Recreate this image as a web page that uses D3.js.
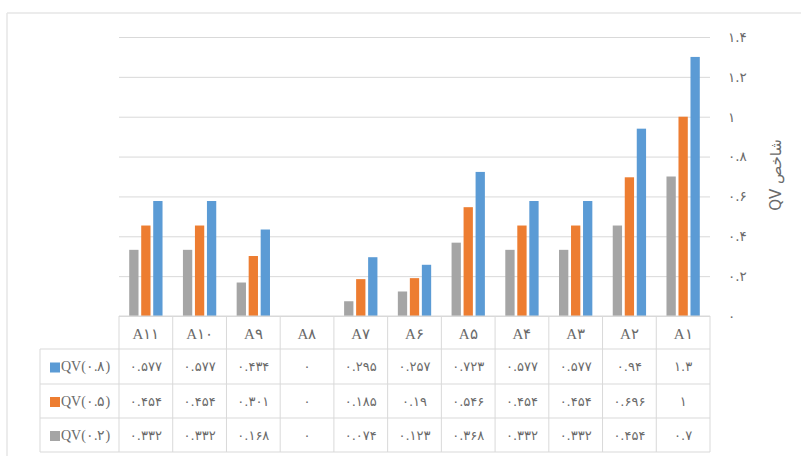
<!DOCTYPE html>
<html>
<head>
<meta charset="utf-8">
<script src="https://cdn.jsdelivr.net/npm/d3@7"></script>
<style>
  html, body { margin: 0; padding: 0; background: #fff; }
  svg { display: block; }
</style>
</head>
<body>
<svg id="chart" width="801" height="456"></svg>
<script>
// ---- data ----
const categories = ["A1", "A2", "A3", "A4", "A5", "A6", "A7", "A8", "A9", "A10", "A11"];
const seriesNames = ["QV(0.2)", "QV(0.5)", "QV(0.8)"];
const qv02 = [0.7, 0.454, 0.332, 0.332, 0.368, 0.123, 0.074, 0, 0.168, 0.332, 0.332];
const qv05 = [1, 0.696, 0.454, 0.454, 0.546, 0.19, 0.185, 0, 0.301, 0.454, 0.454];
const qv08 = [1.3, 0.94, 0.577, 0.577, 0.723, 0.257, 0.295, 0, 0.434, 0.577, 0.577];
const yTicks = [0, 0.2, 0.4, 0.6, 0.8, 1, 1.2, 1.4];
const axisTitle = "شاخص QV";

const seriesValues = [qv02, qv05, qv08];
const colors = ["#A5A5A5", "#ED7D31", "#5B9BD5"];

const fa = s => String(s).replace(/[0-9]/g, d => "۰۱۲۳۴۵۶۷۸۹"[+d]);

const svg = d3.select("#chart");
const plotL = 119, plotR = 710, plotT = 37, plotB = 316;
const gridColor = "#d9d9d9", textColor = "#6a6a6a";

// chart border
svg.append("line").attr("x1", 7).attr("x2", 801).attr("y1", 13).attr("y2", 13)
  .attr("stroke", "#e6e6e6").attr("stroke-width", 1.5);
svg.append("line").attr("x1", 7).attr("x2", 7).attr("y1", 13).attr("y2", 456)
  .attr("stroke", "#e6e6e6").attr("stroke-width", 1.5);

// scales (right-to-left category order)
const x0 = d3.scaleBand().domain(categories).range([plotR, plotL]);
const x1 = d3.scaleBand().domain(seriesNames).range([0, x0.bandwidth()])
  .paddingInner(0.225).paddingOuter(0.85);
const y = d3.scaleLinear().domain([0, 1.4]).range([plotB, plotT]);

// gridlines
svg.append("g")
  .attr("transform", `translate(${plotL},0)`)
  .call(d3.axisLeft(y).tickValues(yTicks).tickSize(-(plotR - plotL)).tickFormat(""))
  .call(g => g.select(".domain").remove())
  .call(g => g.selectAll(".tick line").attr("stroke", gridColor).attr("stroke-width", 1));

// y axis labels on right
svg.append("g")
  .attr("transform", `translate(728,0)`)
  .call(d3.axisRight(y).tickValues(yTicks).tickSize(0).tickPadding(0)
    .tickFormat(d => fa(+d.toFixed(1))))
  .call(g => g.select(".domain").remove())
  .call(g => g.selectAll("text")
    .attr("fill", textColor)
    .attr("font-size", 13.5)
    .attr("font-family", "'DejaVu Sans', 'Liberation Sans', sans-serif")
    .attr("text-anchor", "start"));

// axis title
svg.append("text")
  .attr("transform", `translate(776,175) rotate(-90)`)
  .attr("text-anchor", "middle")
  .attr("dominant-baseline", "central")
  .attr("direction", "rtl")
  .attr("fill", textColor)
  .attr("font-size", 15)
  .attr("font-family", "'DejaVu Sans', 'Liberation Sans', sans-serif")
  .text(axisTitle);

// bars
seriesNames.forEach((s, si) => {
  svg.append("g").selectAll("rect")
    .data(categories.map((c, i) => ({ c, v: seriesValues[si][i] })))
    .join("rect")
    .attr("x", d => x0(d.c) + x1(s))
    .attr("width", x1.bandwidth())
    .attr("y", d => y(d.v))
    .attr("height", d => y(0) - y(d.v))
    .attr("fill", colors[si]);
});

// data table
const tableL = 40;
const rowY = [316, 349, 384, 418, 452];
const tbl = svg.append("g");
const serif = "'Liberation Serif', 'DejaVu Serif', serif";
const numFont = "'DejaVu Sans', 'Liberation Sans', sans-serif";

// horizontal lines
rowY.forEach((ry, i) => {
  tbl.append("line")
    .attr("x1", i === 0 ? plotL : tableL).attr("x2", plotR)
    .attr("y1", ry).attr("y2", ry)
    .attr("stroke", gridColor).attr("stroke-width", 1);
});
// vertical lines
const bounds = categories.map(c => x0(c)).concat([plotR]);
bounds.forEach(bx => {
  tbl.append("line").attr("x1", bx).attr("x2", bx)
    .attr("y1", rowY[0]).attr("y2", rowY[4])
    .attr("stroke", gridColor).attr("stroke-width", 1);
});
tbl.append("line").attr("x1", tableL).attr("x2", tableL)
  .attr("y1", rowY[1]).attr("y2", rowY[4])
  .attr("stroke", gridColor).attr("stroke-width", 1);

// header labels
tbl.selectAll("text.cat").data(categories).join("text")
  .attr("class", "cat")
  .attr("x", c => x0(c) + x0.bandwidth() / 2)
  .attr("y", (rowY[0] + rowY[1]) / 2 + 1)
  .attr("text-anchor", "middle")
  .attr("dominant-baseline", "central")
  .attr("fill", textColor)
  .attr("font-size", 15)
  .attr("font-family", serif)
  .text(c => fa(c));

// data rows: top row = QV(0.8)
const rowOrder = [2, 1, 0];
rowOrder.forEach((si, ri) => {
  const cy = (rowY[ri + 1] + rowY[ri + 2]) / 2;
  tbl.append("rect")
    .attr("x", 50).attr("y", cy - 4).attr("width", 10).attr("height", 10)
    .attr("fill", colors[si]);
  tbl.append("text")
    .attr("x", 61).attr("y", cy)
    .attr("dominant-baseline", "central")
    .attr("fill", textColor)
    .attr("font-size", 14)
    .attr("font-family", serif)
    .text(fa(seriesNames[si]));
  tbl.append("g").selectAll("text")
    .data(categories.map((c, i) => ({ c, v: seriesValues[si][i] })))
    .join("text")
    .attr("x", d => x0(d.c) + x0.bandwidth() / 2)
    .attr("y", cy)
    .attr("text-anchor", "middle")
    .attr("dominant-baseline", "central")
    .attr("fill", textColor)
    .attr("font-size", 13)
    .attr("font-family", numFont)
    .text(d => fa(d.v));
});
</script>
</body>
</html>
